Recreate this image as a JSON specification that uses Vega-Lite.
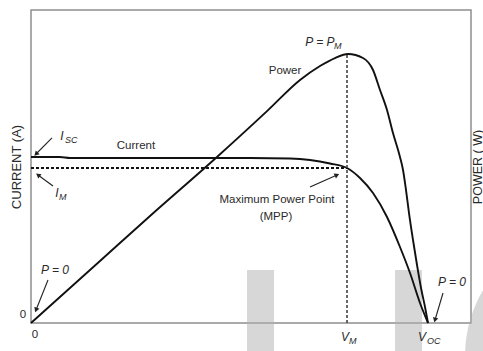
{
  "$schema": "https://vega.github.io/schema/vega-lite/v6.json",
  "width": 440,
  "height": 313,
  "autosize": {"type": "none"},
  "padding": {"left": 31, "top": 10, "right": 12, "bottom": 28},
  "background": "white",
  "config": {
    "view": {"stroke": "#8f8f8f", "strokeWidth": 1.5},
    "font": "Liberation Sans",
    "axis": {"titleFont": "Liberation Sans", "titleFontWeight": "normal", "titleColor": "#2a2a2a", "zindex": 1}
  },
  "datasets": {
    "watermarkRects": [
      {"x": 49.09, "x2": 55.23, "y": 16.93, "y2": -8.95},
      {"x": 82.73, "x2": 88.86, "y": 16.93, "y2": -8.95}
    ],
    "watermarkRound": [{"x": 98.64, "x2": 157.27, "y": 30.67, "y2": -51.76}],
    "current": [
      {"x": 0, "y": 53.04}, {"x": 6.59, "y": 53.04}, {"x": 8.86, "y": 52.72},
      {"x": 27.05, "y": 52.72}, {"x": 49.77, "y": 52.72}, {"x": 58.86, "y": 52.56},
      {"x": 63.41, "y": 52.08}, {"x": 67.95, "y": 50.96}, {"x": 71.82, "y": 49.52},
      {"x": 74.77, "y": 46.33}, {"x": 77.73, "y": 41.53}, {"x": 80.91, "y": 33.87},
      {"x": 83.86, "y": 24.28}, {"x": 86.14, "y": 15.97}, {"x": 88.41, "y": 6.39},
      {"x": 90.23, "y": 0}
    ],
    "power": [
      {"x": 0, "y": 0}, {"x": 15.68, "y": 19.81}, {"x": 27.05, "y": 34.19},
      {"x": 42.27, "y": 53.04}, {"x": 53.64, "y": 67.68}, {"x": 61.14, "y": 77.64},
      {"x": 65.68, "y": 82.11}, {"x": 69.09, "y": 84.66}, {"x": 72.05, "y": 85.94},
      {"x": 75.45, "y": 84.66}, {"x": 77.73, "y": 80.83}, {"x": 79.32, "y": 74.44},
      {"x": 80.91, "y": 68.05}, {"x": 82.27, "y": 60.7}, {"x": 83.86, "y": 53.04},
      {"x": 84.55, "y": 48.88}, {"x": 85.23, "y": 42.49}, {"x": 85.91, "y": 35.14},
      {"x": 86.82, "y": 26.52}, {"x": 87.73, "y": 18.53}, {"x": 88.64, "y": 11.18},
      {"x": 89.55, "y": 5.11}, {"x": 90.23, "y": 0}
    ],
    "imLine": [{"x": 0, "x2": 71.82, "y": 49.52}],
    "vmLine": [{"x": 71.82, "y": 0, "y2": 85.94}],
    "arrows": [
      {"x": 4.77, "y": 59.11, "x2": 1.14, "y2": 53.99, "angle": 225},
      {"x": 5.0, "y": 43.77, "x2": 1.59, "y2": 47.28, "angle": 306},
      {"x": 3.86, "y": 13.74, "x2": 1.14, "y2": 4.15, "angle": 202},
      {"x": 63.41, "y": 43.45, "x2": 69.55, "y2": 47.28, "angle": 66},
      {"x": 93.64, "y": 9.58, "x2": 91.82, "y2": 0.96, "angle": 196}
    ],
    "labels": [
      {"x": 57.73, "y": 80.51, "text": "Power"},
      {"x": 23.86, "y": 56.55, "text": "Current"},
      {"x": 55.91, "y": 39.3, "text": "Maximum Power Point"},
      {"x": 55.68, "y": 33.87, "text": "(MPP)"},
      {"x": -1.82, "y": 2.56, "text": "0"},
      {"x": 0.91, "y": -3.83, "text": "0"}
    ],
    "symbols": [
      {"x": 7.05, "y": 59.74, "text": "I"},
      {"x": 5.91, "y": 41.53, "text": "I"},
      {"x": 71.36, "y": -4.47, "text": "V"},
      {"x": 88.86, "y": -4.47, "text": "V"},
      {"x": 65.68, "y": 89.78, "text": "P = P"},
      {"x": 5.45, "y": 16.93, "text": "P = 0"},
      {"x": 95.68, "y": 13.1, "text": "P = 0"}
    ],
    "subscripts": [
      {"x": 7.73, "y": 58.47, "text": "SC"},
      {"x": 6.36, "y": 40.26, "text": "M"},
      {"x": 72.27, "y": -5.75, "text": "M"},
      {"x": 90.0, "y": -5.75, "text": "OC"},
      {"x": 68.86, "y": 88.5, "text": "M"}
    ]
  },
  "layer": [
    {
      "data": {"name": "watermarkRects"},
      "mark": {"type": "rect", "color": "#b0b0b0", "opacity": 0.5, "clip": false},
      "encoding": {
        "x": {"field": "x", "type": "quantitative", "scale": {"domain": [0, 100]}, "axis": null},
        "x2": {"field": "x2"},
        "y": {"field": "y", "type": "quantitative", "scale": {"domain": [0, 100]}, "axis": null},
        "y2": {"field": "y2"}
      }
    },
    {
      "data": {"name": "watermarkRound"},
      "mark": {"type": "rect", "color": "#b0b0b0", "opacity": 0.5, "cornerRadius": 129, "clip": false},
      "encoding": {
        "x": {"field": "x", "type": "quantitative", "axis": null},
        "x2": {"field": "x2"},
        "y": {"field": "y", "type": "quantitative", "axis": null},
        "y2": {"field": "y2"}
      }
    },
    {
      "data": {"name": "current"},
      "mark": {"type": "line", "color": "#111111", "strokeWidth": 1.9, "interpolate": "monotone"},
      "encoding": {
        "x": {"field": "x", "type": "quantitative", "axis": {"title": "VOLTAGE (V)", "titleFontSize": 11, "titlePadding": 11, "labels": false, "ticks": false, "domain": false, "grid": false}},
        "y": {"field": "y", "type": "quantitative", "axis": {"title": "CURRENT (A)", "titleFontSize": 13, "titlePadding": 8, "labels": false, "ticks": false, "domain": false, "grid": false}}
      }
    },
    {
      "data": {"name": "power"},
      "mark": {"type": "line", "color": "#111111", "strokeWidth": 1.9, "interpolate": "monotone"},
      "encoding": {
        "x": {"field": "x", "type": "quantitative", "axis": null},
        "y": {"field": "y", "type": "quantitative", "axis": {"orient": "right", "title": "POWER ( W)", "titleFontSize": 12.5, "titleAngle": -90, "titleBaseline": "top", "titlePadding": 0, "labels": false, "ticks": false, "domain": false, "grid": false}}
      }
    },
    {
      "data": {"name": "imLine"},
      "mark": {"type": "rule", "color": "#111111", "strokeWidth": 2.2, "strokeDash": [3, 2]},
      "encoding": {
        "x": {"field": "x", "type": "quantitative", "axis": null},
        "x2": {"field": "x2"},
        "y": {"field": "y", "type": "quantitative", "axis": null}
      }
    },
    {
      "data": {"name": "vmLine"},
      "mark": {"type": "rule", "color": "#444444", "strokeWidth": 1.6, "strokeDash": [3, 2]},
      "encoding": {
        "x": {"field": "x", "type": "quantitative", "axis": null},
        "y": {"field": "y", "type": "quantitative", "axis": null},
        "y2": {"field": "y2"}
      }
    },
    {
      "data": {"name": "arrows"},
      "mark": {"type": "rule", "color": "#222222", "strokeWidth": 1.1, "clip": false},
      "encoding": {
        "x": {"field": "x", "type": "quantitative", "axis": null},
        "x2": {"field": "x2"},
        "y": {"field": "y", "type": "quantitative", "axis": null},
        "y2": {"field": "y2"}
      }
    },
    {
      "data": {"name": "arrows"},
      "mark": {"type": "point", "shape": "triangle-up", "filled": true, "color": "#222222", "size": 30, "opacity": 1, "clip": false},
      "encoding": {
        "x": {"field": "x2", "type": "quantitative", "axis": null},
        "y": {"field": "y2", "type": "quantitative", "axis": null},
        "angle": {"field": "angle", "type": "quantitative", "scale": null}
      }
    },
    {
      "data": {"name": "labels"},
      "mark": {"type": "text", "font": "Liberation Sans", "fontSize": 11.5, "color": "#2a2a2a", "align": "center", "baseline": "middle", "clip": false},
      "encoding": {
        "x": {"field": "x", "type": "quantitative", "axis": null},
        "y": {"field": "y", "type": "quantitative", "axis": null},
        "text": {"field": "text"}
      }
    },
    {
      "data": {"name": "symbols"},
      "mark": {"type": "text", "font": "Liberation Sans", "fontSize": 12, "fontStyle": "italic", "color": "#2a2a2a", "align": "center", "baseline": "middle", "clip": false},
      "encoding": {
        "x": {"field": "x", "type": "quantitative", "axis": null},
        "y": {"field": "y", "type": "quantitative", "axis": null},
        "text": {"field": "text"}
      }
    },
    {
      "data": {"name": "subscripts"},
      "mark": {"type": "text", "font": "Liberation Sans", "fontSize": 9, "fontStyle": "italic", "color": "#2a2a2a", "align": "left", "baseline": "middle", "clip": false},
      "encoding": {
        "x": {"field": "x", "type": "quantitative", "axis": null},
        "y": {"field": "y", "type": "quantitative", "axis": null},
        "text": {"field": "text"}
      }
    }
  ],
  "resolve": {"axis": {"y": "independent"}}
}
